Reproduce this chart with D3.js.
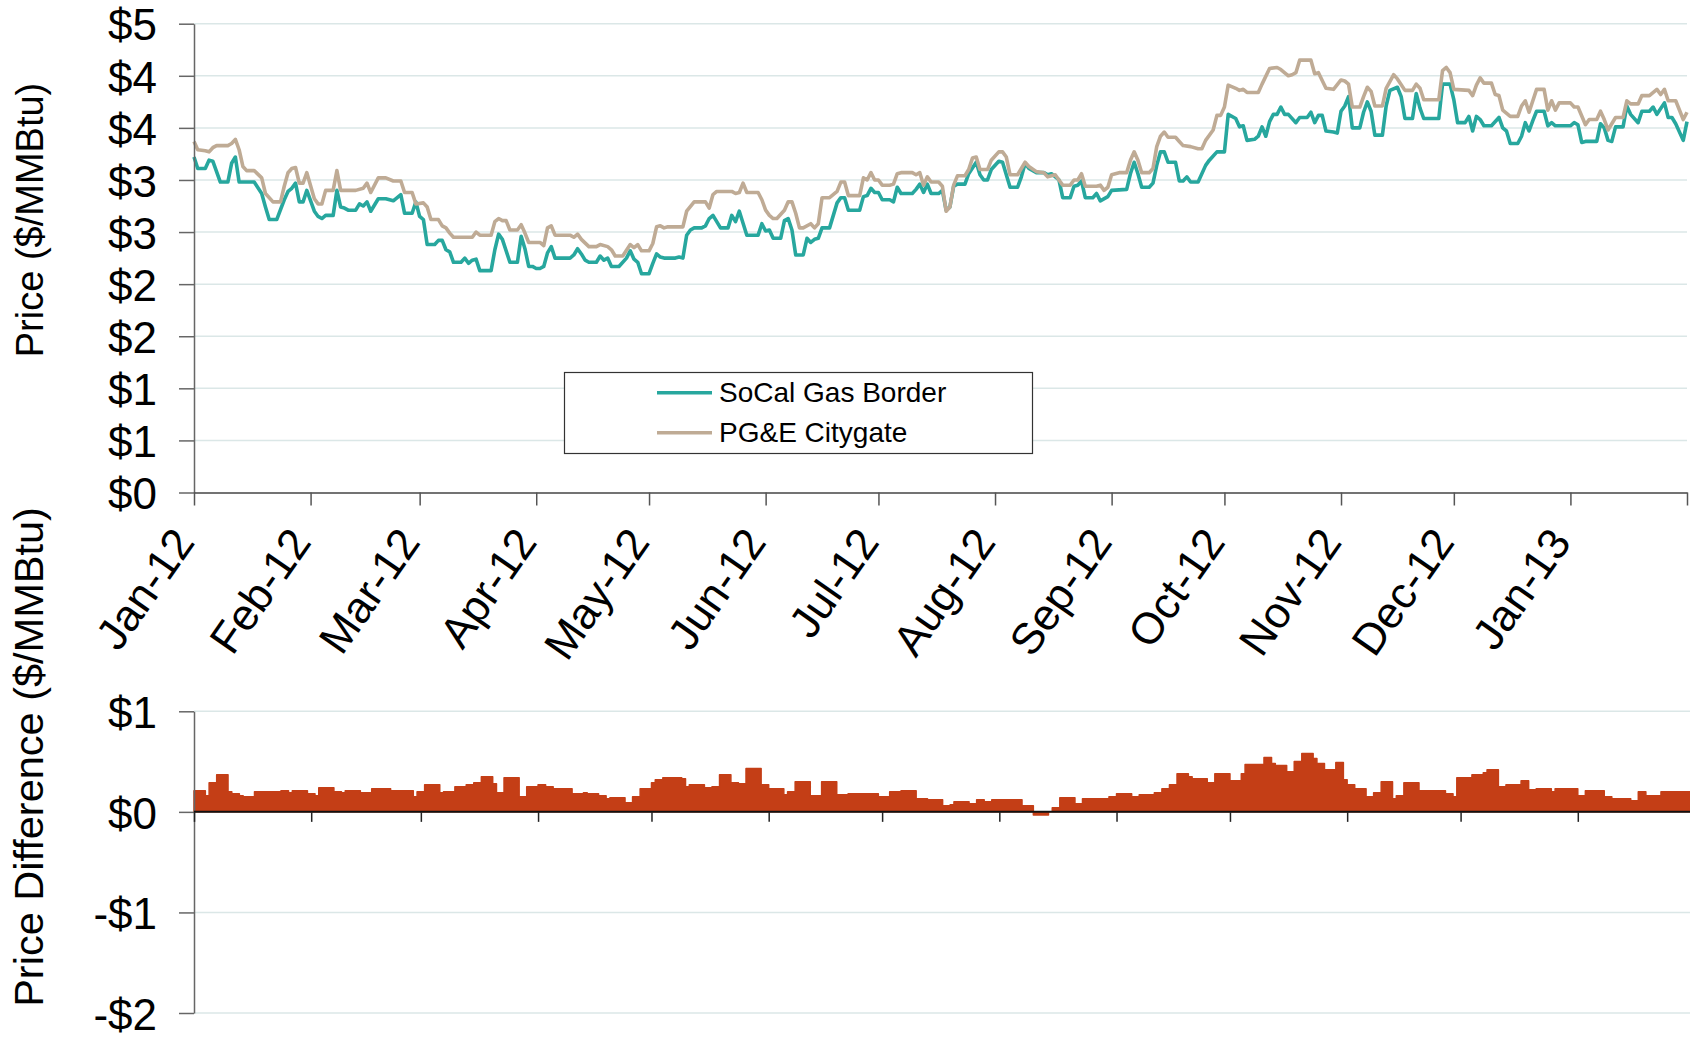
<!DOCTYPE html>
<html lang="en">
<head>
<meta charset="utf-8">
<title>SoCal Gas Border vs PG&amp;E Citygate</title>
<script src="https://cdn.jsdelivr.net/npm/d3@7"></script>
<style>
  body { margin: 0; background: #fff; }
  svg { display: block; font-family: "Liberation Sans", Arial, sans-serif; }
</style>
</head>
<body>
<script>
// daily prices, $/MMBtu
var socalBorder = [
  ["2012-01-01",3.22],["2012-01-02",3.11],["2012-01-04",3.11],["2012-01-05",3.19],["2012-01-06",3.18],
  ["2012-01-08",2.98],["2012-01-10",2.98],["2012-01-11",3.16],["2012-01-12",3.22],["2012-01-13",2.98],
  ["2012-01-17",2.98],["2012-01-19",2.87],["2012-01-20",2.74],["2012-01-21",2.62],["2012-01-23",2.62],
  ["2012-01-25",2.81],["2012-01-26",2.89],["2012-01-27",2.92],["2012-01-28",2.97],["2012-01-29",2.79],
  ["2012-01-30",2.79],["2012-01-31",2.90],["2012-02-02",2.70],["2012-02-03",2.65],["2012-02-04",2.63],
  ["2012-02-05",2.66],["2012-02-07",2.66],["2012-02-08",2.90],["2012-02-09",2.74],["2012-02-10",2.73],
  ["2012-02-11",2.71],["2012-02-13",2.71],["2012-02-14",2.77],["2012-02-15",2.75],["2012-02-16",2.79],
  ["2012-02-17",2.70],["2012-02-19",2.82],["2012-02-21",2.82],["2012-02-23",2.80],["2012-02-25",2.86],
  ["2012-02-26",2.68],["2012-02-28",2.68],["2012-02-29",2.79],["2012-03-01",2.65],["2012-03-02",2.62],
  ["2012-03-03",2.38],["2012-03-05",2.38],["2012-03-06",2.42],["2012-03-07",2.42],["2012-03-08",2.33],
  ["2012-03-09",2.31],["2012-03-10",2.21],["2012-03-12",2.21],["2012-03-13",2.25],["2012-03-14",2.20],
  ["2012-03-15",2.23],["2012-03-16",2.24],["2012-03-17",2.13],["2012-03-20",2.13],["2012-03-21",2.33],
  ["2012-03-22",2.48],["2012-03-23",2.43],["2012-03-25",2.21],["2012-03-27",2.21],["2012-03-28",2.46],
  ["2012-03-29",2.34],["2012-03-30",2.17],["2012-03-31",2.17],["2012-04-01",2.15],["2012-04-02",2.15],
  ["2012-04-03",2.17],["2012-04-04",2.30],["2012-04-05",2.36],["2012-04-06",2.25],["2012-04-10",2.25],
  ["2012-04-11",2.28],["2012-04-12",2.34],["2012-04-13",2.29],["2012-04-14",2.23],["2012-04-15",2.21],
  ["2012-04-17",2.21],["2012-04-18",2.27],["2012-04-19",2.23],["2012-04-20",2.25],["2012-04-21",2.17],
  ["2012-04-23",2.17],["2012-04-25",2.25],["2012-04-26",2.32],["2012-04-27",2.24],["2012-04-28",2.21],
  ["2012-04-29",2.10],["2012-05-01",2.10],["2012-05-02",2.20],["2012-05-03",2.29],["2012-05-04",2.26],
  ["2012-05-05",2.25],["2012-05-08",2.25],["2012-05-09",2.26],["2012-05-10",2.25],["2012-05-11",2.47],
  ["2012-05-12",2.52],["2012-05-13",2.54],["2012-05-15",2.54],["2012-05-16",2.56],["2012-05-17",2.63],
  ["2012-05-18",2.66],["2012-05-20",2.54],["2012-05-22",2.54],["2012-05-23",2.66],["2012-05-24",2.60],
  ["2012-05-25",2.70],["2012-05-27",2.47],["2012-05-30",2.47],["2012-05-31",2.58],["2012-06-01",2.51],
  ["2012-06-02",2.52],["2012-06-03",2.44],["2012-06-05",2.44],["2012-06-06",2.61],["2012-06-07",2.63],
  ["2012-06-08",2.52],["2012-06-09",2.28],["2012-06-11",2.28],["2012-06-12",2.44],["2012-06-13",2.40],
  ["2012-06-14",2.43],["2012-06-15",2.44],["2012-06-16",2.54],["2012-06-18",2.54],["2012-06-20",2.78],
  ["2012-06-21",2.83],["2012-06-22",2.83],["2012-06-23",2.71],["2012-06-26",2.71],["2012-06-27",2.84],
  ["2012-06-28",2.85],["2012-06-29",2.92],["2012-06-30",2.88],["2012-07-01",2.88],["2012-07-02",2.81],
  ["2012-07-04",2.81],["2012-07-05",2.79],["2012-07-06",2.93],["2012-07-07",2.87],["2012-07-10",2.87],
  ["2012-07-11",2.91],["2012-07-12",2.96],["2012-07-13",2.88],["2012-07-14",2.96],["2012-07-15",2.87],
  ["2012-07-17",2.87],["2012-07-18",2.90],["2012-07-19",2.71],["2012-07-20",2.74],["2012-07-21",2.94],
  ["2012-07-22",2.96],["2012-07-24",2.96],["2012-07-25",3.06],["2012-07-27",3.17],["2012-07-28",3.05],
  ["2012-07-29",3.00],["2012-07-30",3.00],["2012-07-31",3.10],["2012-08-02",3.18],["2012-08-03",3.17],
  ["2012-08-04",3.05],["2012-08-05",2.93],["2012-08-07",2.93],["2012-08-08",3.03],["2012-08-09",3.16],
  ["2012-08-10",3.11],["2012-08-12",3.07],["2012-08-14",3.07],["2012-08-15",3.05],["2012-08-16",3.06],
  ["2012-08-18",3.00],["2012-08-19",2.83],["2012-08-21",2.83],["2012-08-22",2.94],["2012-08-23",2.95],
  ["2012-08-24",2.99],["2012-08-25",2.83],["2012-08-27",2.83],["2012-08-28",2.87],["2012-08-29",2.80],
  ["2012-08-31",2.84],["2012-09-01",2.90],["2012-09-05",2.91],["2012-09-06",3.06],["2012-09-07",3.17],
  ["2012-09-08",3.06],["2012-09-09",2.93],["2012-09-11",2.93],["2012-09-12",2.97],["2012-09-13",3.14],
  ["2012-09-14",3.27],["2012-09-15",3.27],["2012-09-16",3.17],["2012-09-18",3.17],["2012-09-19",2.99],
  ["2012-09-20",2.99],["2012-09-21",3.03],["2012-09-22",2.98],["2012-09-24",2.98],["2012-09-26",3.14],
  ["2012-09-27",3.19],["2012-09-29",3.27],["2012-10-01",3.27],["2012-10-02",3.63],["2012-10-04",3.59],
  ["2012-10-05",3.51],["2012-10-06",3.52],["2012-10-07",3.38],["2012-10-09",3.39],["2012-10-10",3.42],
  ["2012-10-11",3.51],["2012-10-12",3.42],["2012-10-13",3.56],["2012-10-14",3.63],["2012-10-15",3.63],
  ["2012-10-16",3.70],["2012-10-17",3.63],["2012-10-18",3.63],["2012-10-20",3.55],["2012-10-21",3.60],
  ["2012-10-23",3.60],["2012-10-24",3.65],["2012-10-25",3.55],["2012-10-26",3.62],["2012-10-27",3.62],
  ["2012-10-28",3.47],["2012-10-30",3.46],["2012-10-31",3.45],["2012-11-01",3.66],["2012-11-02",3.71],
  ["2012-11-03",3.80],["2012-11-04",3.50],["2012-11-06",3.50],["2012-11-07",3.65],["2012-11-08",3.75],
  ["2012-11-09",3.66],["2012-11-10",3.43],["2012-11-12",3.43],["2012-11-13",3.71],["2012-11-14",3.86],
  ["2012-11-16",3.89],["2012-11-17",3.80],["2012-11-18",3.59],["2012-11-20",3.59],["2012-11-21",3.83],
  ["2012-11-22",3.69],["2012-11-23",3.59],["2012-11-27",3.59],["2012-11-28",3.92],["2012-11-30",3.92],
  ["2012-12-01",3.77],["2012-12-02",3.55],["2012-12-04",3.55],["2012-12-05",3.61],["2012-12-06",3.47],
  ["2012-12-07",3.61],["2012-12-08",3.58],["2012-12-09",3.52],["2012-12-11",3.52],["2012-12-13",3.60],
  ["2012-12-14",3.50],["2012-12-15",3.47],["2012-12-16",3.35],["2012-12-18",3.35],["2012-12-19",3.42],
  ["2012-12-20",3.55],["2012-12-21",3.47],["2012-12-22",3.57],["2012-12-23",3.66],["2012-12-25",3.66],
  ["2012-12-26",3.52],["2012-12-27",3.55],["2012-12-28",3.52],["2013-01-01",3.52],["2013-01-02",3.55],
  ["2013-01-03",3.53],["2013-01-04",3.36],["2013-01-05",3.37],["2013-01-08",3.37],["2013-01-09",3.54],
  ["2013-01-10",3.50],["2013-01-11",3.38],["2013-01-12",3.37],["2013-01-13",3.51],["2013-01-15",3.51],
  ["2013-01-16",3.71],["2013-01-17",3.63],["2013-01-19",3.55],["2013-01-20",3.66],["2013-01-22",3.66],
  ["2013-01-23",3.70],["2013-01-24",3.63],["2013-01-26",3.74],["2013-01-27",3.60],["2013-01-28",3.60],
  ["2013-01-29",3.54],["2013-01-31",3.38],["2013-02-01",3.56]
];

var pgeCitygate = [
  ["2012-01-01",3.37],["2012-01-02",3.29],["2012-01-04",3.28],["2012-01-05",3.27],["2012-01-06",3.31],
  ["2012-01-07",3.33],["2012-01-10",3.33],["2012-01-11",3.35],["2012-01-12",3.39],["2012-01-13",3.29],
  ["2012-01-14",3.13],["2012-01-15",3.09],["2012-01-17",3.09],["2012-01-19",3.02],["2012-01-20",2.87],
  ["2012-01-22",2.79],["2012-01-24",2.79],["2012-01-25",2.94],["2012-01-26",3.07],["2012-01-27",3.11],
  ["2012-01-28",3.12],["2012-01-29",2.97],["2012-01-30",2.97],["2012-01-31",3.07],["2012-02-02",2.82],
  ["2012-02-03",2.77],["2012-02-04",2.77],["2012-02-05",2.90],["2012-02-07",2.90],["2012-02-08",3.09],
  ["2012-02-09",2.90],["2012-02-13",2.90],["2012-02-15",2.92],["2012-02-16",2.97],["2012-02-17",2.88],
  ["2012-02-19",3.02],["2012-02-21",3.02],["2012-02-23",2.99],["2012-02-25",2.99],["2012-02-26",2.88],
  ["2012-02-28",2.88],["2012-02-29",2.77],["2012-03-02",2.78],["2012-03-03",2.74],["2012-03-04",2.62],
  ["2012-03-06",2.62],["2012-03-07",2.56],["2012-03-08",2.54],["2012-03-09",2.49],["2012-03-10",2.45],
  ["2012-03-15",2.45],["2012-03-16",2.50],["2012-03-17",2.47],["2012-03-20",2.47],["2012-03-21",2.60],
  ["2012-03-22",2.63],["2012-03-23",2.61],["2012-03-24",2.61],["2012-03-25",2.52],["2012-03-27",2.52],
  ["2012-03-28",2.57],["2012-03-29",2.49],["2012-03-30",2.40],["2012-04-02",2.40],["2012-04-03",2.37],
  ["2012-04-04",2.54],["2012-04-05",2.56],["2012-04-06",2.47],["2012-04-10",2.47],["2012-04-11",2.45],
  ["2012-04-12",2.48],["2012-04-13",2.43],["2012-04-15",2.36],["2012-04-17",2.36],["2012-04-18",2.38],
  ["2012-04-20",2.36],["2012-04-21",2.33],["2012-04-22",2.27],["2012-04-24",2.27],["2012-04-26",2.38],
  ["2012-04-27",2.35],["2012-04-28",2.38],["2012-04-29",2.32],["2012-05-01",2.32],["2012-05-02",2.39],
  ["2012-05-03",2.55],["2012-05-04",2.56],["2012-05-05",2.54],["2012-05-06",2.55],["2012-05-10",2.55],
  ["2012-05-11",2.70],["2012-05-13",2.79],["2012-05-16",2.79],["2012-05-17",2.73],["2012-05-18",2.86],
  ["2012-05-19",2.89],["2012-05-23",2.89],["2012-05-24",2.87],["2012-05-25",2.88],["2012-05-26",2.97],
  ["2012-05-27",2.88],["2012-05-30",2.88],["2012-05-31",2.81],["2012-06-01",2.71],["2012-06-02",2.66],
  ["2012-06-03",2.63],["2012-06-04",2.63],["2012-06-06",2.71],["2012-06-07",2.79],["2012-06-08",2.79],
  ["2012-06-09",2.68],["2012-06-10",2.54],["2012-06-11",2.54],["2012-06-13",2.58],["2012-06-14",2.54],
  ["2012-06-15",2.58],["2012-06-16",2.83],["2012-06-18",2.83],["2012-06-20",2.89],["2012-06-21",2.98],
  ["2012-06-22",2.98],["2012-06-23",2.85],["2012-06-26",2.85],["2012-06-27",3.02],["2012-06-28",3.00],
  ["2012-06-29",3.07],["2012-06-30",3.00],["2012-07-01",3.00],["2012-07-02",2.95],["2012-07-04",2.95],
  ["2012-07-05",2.96],["2012-07-06",3.06],["2012-07-07",3.07],["2012-07-10",3.07],["2012-07-11",3.05],
  ["2012-07-12",3.07],["2012-07-13",2.95],["2012-07-14",3.03],["2012-07-15",2.98],["2012-07-17",2.98],
  ["2012-07-18",2.94],["2012-07-19",2.70],["2012-07-20",2.74],["2012-07-21",2.95],["2012-07-22",3.04],
  ["2012-07-24",3.04],["2012-07-25",3.10],["2012-07-26",3.21],["2012-07-27",3.22],["2012-07-28",3.10],
  ["2012-07-30",3.10],["2012-07-31",3.19],["2012-08-02",3.27],["2012-08-03",3.27],["2012-08-04",3.22],
  ["2012-08-05",3.05],["2012-08-07",3.05],["2012-08-08",3.11],["2012-08-09",3.17],["2012-08-10",3.13],
  ["2012-08-12",3.08],["2012-08-14",3.07],["2012-08-15",3.03],["2012-08-17",3.05],["2012-08-18",3.00],
  ["2012-08-19",2.95],["2012-08-21",2.95],["2012-08-22",3.00],["2012-08-23",3.00],["2012-08-24",3.06],
  ["2012-08-25",2.94],["2012-08-28",2.94],["2012-08-29",2.95],["2012-08-30",2.90],["2012-08-31",2.93],
  ["2012-09-01",3.05],["2012-09-03",3.07],["2012-09-05",3.07],["2012-09-06",3.19],["2012-09-07",3.27],
  ["2012-09-08",3.19],["2012-09-09",3.07],["2012-09-11",3.07],["2012-09-12",3.11],["2012-09-13",3.32],
  ["2012-09-14",3.42],["2012-09-15",3.46],["2012-09-16",3.41],["2012-09-18",3.41],["2012-09-19",3.37],
  ["2012-09-20",3.33],["2012-09-22",3.32],["2012-09-24",3.30],["2012-09-25",3.30],["2012-09-26",3.38],
  ["2012-09-28",3.48],["2012-09-29",3.62],["2012-09-30",3.62],["2012-10-01",3.70],["2012-10-02",3.91],
  ["2012-10-04",3.88],["2012-10-05",3.86],["2012-10-06",3.87],["2012-10-07",3.84],["2012-10-10",3.84],
  ["2012-10-11",3.92],["2012-10-13",4.07],["2012-10-15",4.08],["2012-10-16",4.06],["2012-10-18",4.00],
  ["2012-10-19",4.01],["2012-10-20",4.03],["2012-10-21",4.15],["2012-10-24",4.15],["2012-10-25",4.02],
  ["2012-10-26",4.03],["2012-10-28",3.88],["2012-10-30",3.87],["2012-11-01",3.96],["2012-11-02",3.95],
  ["2012-11-03",3.92],["2012-11-04",3.70],["2012-11-06",3.70],["2012-11-07",3.80],["2012-11-08",3.89],
  ["2012-11-09",3.85],["2012-11-10",3.71],["2012-11-12",3.71],["2012-11-13",3.88],["2012-11-15",4.01],
  ["2012-11-16",3.97],["2012-11-18",3.86],["2012-11-20",3.86],["2012-11-21",3.92],["2012-11-22",3.88],
  ["2012-11-23",3.77],["2012-11-27",3.77],["2012-11-28",4.05],["2012-11-29",4.08],["2012-11-30",4.03],
  ["2012-12-01",3.87],["2012-12-05",3.86],["2012-12-06",3.81],["2012-12-07",3.91],["2012-12-08",3.98],
  ["2012-12-09",3.93],["2012-12-11",3.93],["2012-12-12",3.82],["2012-12-13",3.81],["2012-12-14",3.67],
  ["2012-12-16",3.61],["2012-12-18",3.61],["2012-12-19",3.71],["2012-12-20",3.76],["2012-12-21",3.65],
  ["2012-12-23",3.87],["2012-12-25",3.87],["2012-12-26",3.67],["2012-12-27",3.76],["2012-12-28",3.67],
  ["2012-12-29",3.74],["2013-01-01",3.74],["2013-01-02",3.70],["2013-01-03",3.70],["2013-01-05",3.53],
  ["2013-01-06",3.58],["2013-01-08",3.58],["2013-01-09",3.66],["2013-01-10",3.58],["2013-01-11",3.48],
  ["2013-01-13",3.60],["2013-01-15",3.60],["2013-01-16",3.76],["2013-01-17",3.73],["2013-01-19",3.73],
  ["2013-01-20",3.81],["2013-01-22",3.81],["2013-01-24",3.87],["2013-01-25",3.82],["2013-01-26",3.87],
  ["2013-01-27",3.76],["2013-01-29",3.76],["2013-01-31",3.58],["2013-02-01",3.65]
];

// price difference (PG&E minus SoCal), each value holds from its date to the next
var priceDiff = [
  ["2012-01-01",0.21],["2012-01-04",0.16],["2012-01-05",0.29],["2012-01-07",0.37],["2012-01-10",0.20],
  ["2012-01-11",0.18],["2012-01-13",0.16],["2012-01-14",0.15],["2012-01-17",0.20],["2012-01-24",0.21],
  ["2012-01-26",0.19],["2012-01-27",0.21],["2012-01-31",0.18],["2012-02-02",0.16],["2012-02-03",0.24],
  ["2012-02-07",0.20],["2012-02-09",0.19],["2012-02-10",0.21],["2012-02-14",0.19],["2012-02-17",0.23],
  ["2012-02-22",0.21],["2012-02-28",0.15],["2012-02-29",0.20],["2012-03-02",0.27],["2012-03-06",0.19],
  ["2012-03-07",0.20],["2012-03-10",0.25],["2012-03-13",0.27],["2012-03-15",0.29],["2012-03-17",0.35],
  ["2012-03-20",0.28],["2012-03-21",0.19],["2012-03-23",0.34],["2012-03-27",0.15],["2012-03-29",0.25],
  ["2012-04-01",0.27],["2012-04-03",0.25],["2012-04-05",0.23],["2012-04-10",0.18],["2012-04-13",0.19],
  ["2012-04-14",0.18],["2012-04-17",0.16],["2012-04-19",0.13],["2012-04-20",0.14],["2012-04-24",0.09],
  ["2012-04-26",0.15],["2012-04-28",0.23],["2012-05-01",0.29],["2012-05-02",0.32],["2012-05-04",0.34],
  ["2012-05-09",0.33],["2012-05-10",0.25],["2012-05-11",0.27],["2012-05-15",0.24],["2012-05-17",0.25],
  ["2012-05-19",0.37],["2012-05-22",0.29],["2012-05-24",0.28],["2012-05-26",0.43],["2012-05-30",0.27],
  ["2012-06-01",0.23],["2012-06-05",0.17],["2012-06-06",0.20],["2012-06-08",0.30],["2012-06-12",0.16],
  ["2012-06-15",0.30],["2012-06-19",0.17],["2012-06-22",0.18],["2012-06-30",0.15],["2012-07-03",0.20],
  ["2012-07-06",0.21],["2012-07-10",0.13],["2012-07-13",0.12],["2012-07-17",0.06],["2012-07-19",0.07],
  ["2012-07-20",0.10],["2012-07-24",0.08],["2012-07-26",0.12],["2012-07-28",0.10],["2012-07-30",0.12],
  ["2012-08-07",0.06],["2012-08-10",-0.03],["2012-08-14",0.00],["2012-08-15",0.04],["2012-08-17",0.14],
  ["2012-08-21",0.08],["2012-08-23",0.13],["2012-08-30",0.15],["2012-09-01",0.18],["2012-09-05",0.15],
  ["2012-09-07",0.17],["2012-09-11",0.19],["2012-09-13",0.23],["2012-09-15",0.27],["2012-09-17",0.38],
  ["2012-09-20",0.35],["2012-09-21",0.33],["2012-09-25",0.29],["2012-09-27",0.38],["2012-10-01",0.31],
  ["2012-10-04",0.38],["2012-10-05",0.47],["2012-10-10",0.54],["2012-10-12",0.48],["2012-10-13",0.46],
  ["2012-10-16",0.40],["2012-10-18",0.50],["2012-10-20",0.58],["2012-10-23",0.53],["2012-10-24",0.48],
  ["2012-10-26",0.42],["2012-10-29",0.49],["2012-10-31",0.32],["2012-11-01",0.27],["2012-11-03",0.23],
  ["2012-11-06",0.15],["2012-11-08",0.19],["2012-11-10",0.30],["2012-11-13",0.13],["2012-11-14",0.16],
  ["2012-11-16",0.29],["2012-11-20",0.21],["2012-11-27",0.18],["2012-11-29",0.15],["2012-11-30",0.34],
  ["2012-12-04",0.37],["2012-12-07",0.39],["2012-12-08",0.42],["2012-12-11",0.25],["2012-12-13",0.27],
  ["2012-12-17",0.31],["2012-12-19",0.22],["2012-12-21",0.23],["2012-12-25",0.20],["2012-12-26",0.23],
  ["2013-01-01",0.16],["2013-01-03",0.21],["2013-01-08",0.15],["2013-01-10",0.13],["2013-01-15",0.11],
  ["2013-01-17",0.20],["2013-01-19",0.16],["2013-01-23",0.20]
];

var monthStarts = ["2012-01-01","2012-02-01","2012-03-01","2012-04-01","2012-05-01","2012-06-01",
  "2012-07-01","2012-08-01","2012-09-01","2012-10-01","2012-11-01","2012-12-01","2013-01-01","2013-02-01"];
var monthLabels = ["Jan-12","Feb-12","Mar-12","Apr-12","May-12","Jun-12","Jul-12",
  "Aug-12","Sep-12","Oct-12","Nov-12","Dec-12","Jan-13"];
var priceTicks = [0, 0.5, 1, 1.5, 2, 2.5, 3, 3.5, 4, 4.5];
var diffTicks = [-2, -1, 0, 1];
var seriesNames = ["SoCal Gas Border", "PG&E Citygate"];
var seriesColors = ["#27a79e", "#bfab95"];

var w = 1690, h = 1039;
var parse = d3.timeParse("%Y-%m-%d");
var ticks = monthStarts.map(parse);
var start = ticks[0], end = ticks[ticks.length - 1];

var svg = d3.select("body").append("svg")
    .attr("width", w)
    .attr("height", h);

function money(v) {
    return (v < 0 ? "-" : "") + "$" + Math.abs(v).toFixed(0);
}

// ---------- top panel: prices ----------
var x = d3.scaleTime().domain([start, end]).range([194, 1687]);
var y = d3.scaleLinear().domain([0, 4.5]).range([492.5, 23.7]);

svg.append("g").selectAll("line")
    .data(priceTicks.filter(function(d) { return d > 0; }))
    .enter().append("line")
    .attr("x1", 194).attr("x2", 1687)
    .attr("y1", function(d) { return y(d); })
    .attr("y2", function(d) { return y(d); })
    .attr("stroke", "#dbe7e7").attr("stroke-width", 1.5);

var line = d3.line()
    .x(function(d) { return x(parse(d[0])); })
    .y(function(d) { return y(d[1]); });

[socalBorder, pgeCitygate].forEach(function(s, i) {
    svg.append("path")
        .attr("d", line(s))
        .attr("fill", "none")
        .attr("stroke", seriesColors[i])
        .attr("stroke-width", 3.6)
        .attr("stroke-linejoin", "round");
});

var yAxis = svg.append("g")
    .attr("transform", "translate(194,0)")
    .call(d3.axisLeft(y).tickValues(priceTicks).tickFormat(money)
        .tickSize(15).tickSizeOuter(0).tickPadding(22));

var xAxis = svg.append("g")
    .attr("transform", "translate(0," + y(0) + ")")
    .call(d3.axisBottom(x).tickValues(ticks).tickFormat("")
        .tickSize(13).tickSizeOuter(0));

svg.append("g").selectAll("text")
    .data(monthLabels)
    .enter().append("text")
    .attr("transform", function(d, i) {
        return "translate(" + (x(ticks[i]) + 2) + "," + (y(0) + 50) + ") rotate(-55)";
    })
    .attr("text-anchor", "end")
    .attr("font-size", 44)
    .text(function(d) { return d; });

svg.append("text")
    .attr("transform", "translate(43,220) rotate(-90)")
    .attr("text-anchor", "middle")
    .attr("font-size", 38)
    .text("Price ($/MMBtu)");

// legend
var lg = svg.append("g");
lg.append("rect")
    .attr("x", 564.5).attr("y", 372.5)
    .attr("width", 468).attr("height", 81)
    .attr("fill", "#fff").attr("stroke", "#333").attr("stroke-width", 1.2);
seriesNames.forEach(function(n, i) {
    var ly = 392.7 + i * 40;
    lg.append("line")
        .attr("x1", 657).attr("x2", 712)
        .attr("y1", ly).attr("y2", ly)
        .attr("stroke", seriesColors[i]).attr("stroke-width", 3.6);
    lg.append("text")
        .attr("x", 719).attr("y", ly + 9)
        .attr("font-size", 28)
        .text(n);
});

// ---------- bottom panel: price difference ----------
var x2 = d3.scaleTime().domain([start, end]).range([194, 1695]);
var y2 = d3.scaleLinear().domain([-2, 1]).range([1013, 711.3]);

svg.append("g").selectAll("line")
    .data(diffTicks.filter(function(d) { return d !== 0; }))
    .enter().append("line")
    .attr("x1", 194).attr("x2", w)
    .attr("y1", function(d) { return y2(d); })
    .attr("y2", function(d) { return y2(d); })
    .attr("stroke", "#dbe7e7").attr("stroke-width", 1.5);

var steps = priceDiff.concat([[monthStarts[monthStarts.length - 1], priceDiff[priceDiff.length - 1][1]]]);
var area = d3.area()
    .curve(d3.curveStepAfter)
    .x(function(d) { return x2(parse(d[0])); })
    .y0(y2(0))
    .y1(function(d) { return y2(d[1]); });

svg.append("path")
    .attr("d", area(steps))
    .attr("fill", "#c43e16")
    .attr("stroke", "#c43e16")
    .attr("stroke-width", 1.5)
    .attr("stroke-linejoin", "round");

var y2Axis = svg.append("g")
    .attr("transform", "translate(194,0)")
    .call(d3.axisLeft(y2).tickValues(diffTicks).tickFormat(money)
        .tickSize(15).tickSizeOuter(0).tickPadding(22));

var x2Axis = svg.append("g")
    .attr("transform", "translate(0," + y2(0) + ")")
    .call(d3.axisBottom(x2).tickValues(ticks).tickFormat("")
        .tickSize(10).tickSizeOuter(0));

svg.append("text")
    .attr("transform", "translate(43,757) rotate(-90)")
    .attr("text-anchor", "middle")
    .attr("font-size", 41.5)
    .text("Price Difference ($/MMBtu)");

// axis styling
[yAxis, y2Axis].forEach(function(a) {
    a.select(".domain").attr("stroke", "#666").attr("stroke-width", 1.5);
    a.selectAll(".tick line").attr("stroke", "#666").attr("stroke-width", 1.5);
    a.selectAll(".tick text").attr("font-size", 44).attr("fill", "#000")
        .attr("dy", "0.37em")
        .attr("font-family", "Liberation Sans, Arial, sans-serif");
});
xAxis.select(".domain").attr("stroke", "#444").attr("stroke-width", 1.5);
xAxis.selectAll(".tick line").attr("stroke", "#555").attr("stroke-width", 1.5);
x2Axis.select(".domain").attr("stroke", "#111").attr("stroke-width", 2)
    .attr("d", "M194,0H" + w);
x2Axis.selectAll(".tick line").attr("stroke", "#222").attr("stroke-width", 1.5);
</script>
</body>
</html>
